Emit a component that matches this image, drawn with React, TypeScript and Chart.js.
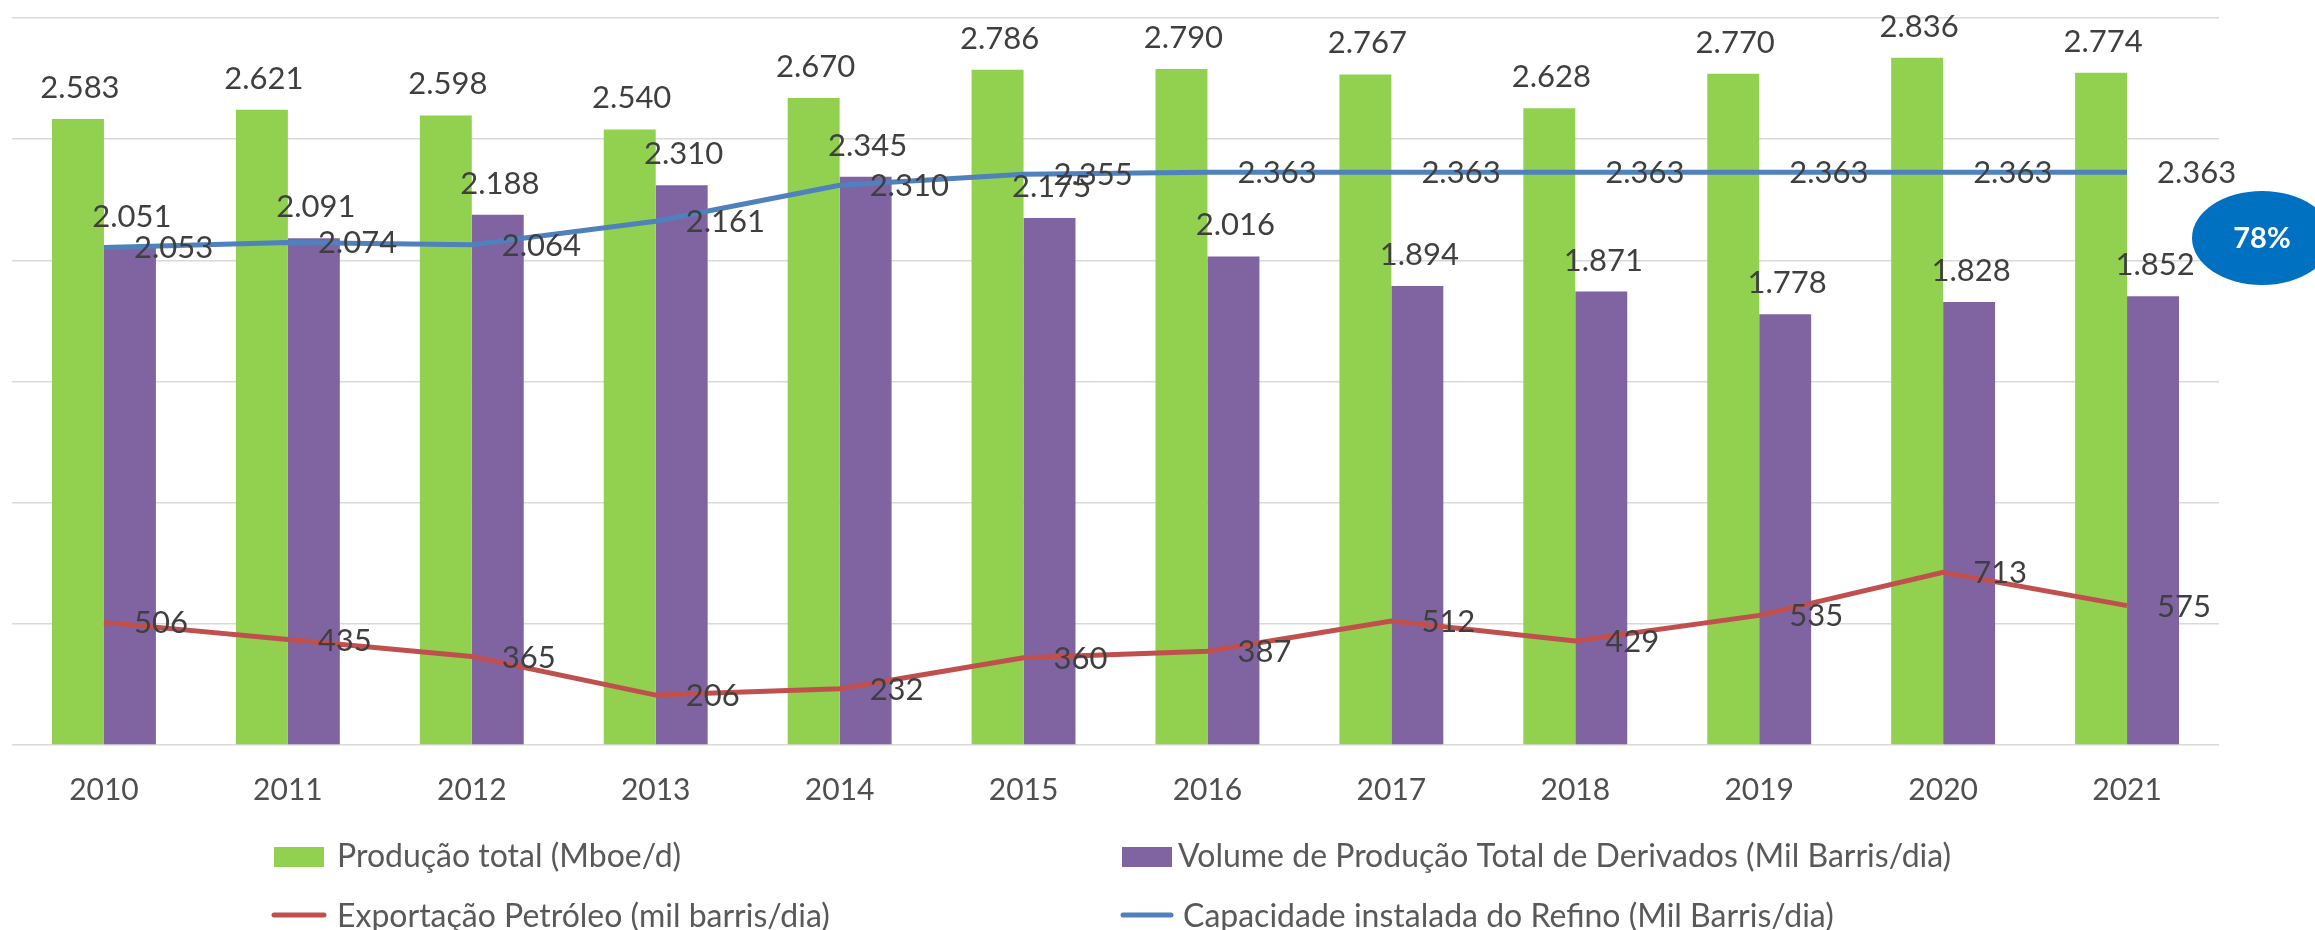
import React, { useEffect, useRef } from 'react';
import { Chart, registerables } from 'chart.js';

Chart.register(...registerables);

const years = ['2010', '2011', '2012', '2013', '2014', '2015', '2016', '2017', '2018', '2019', '2020', '2021'];
const producaoTotal = [2583, 2621, 2598, 2540, 2670, 2786, 2790, 2767, 2628, 2770, 2836, 2774];
const derivados = [2051, 2091, 2188, 2310, 2345, 2175, 2016, 1894, 1871, 1778, 1828, 1852];
const exportacao = [506, 435, 365, 206, 232, 360, 387, 512, 429, 535, 713, 575];
const capacidade = [2053, 2074, 2064, 2161, 2310, 2355, 2363, 2363, 2363, 2363, 2363, 2363];
const yMax = 3000;
const yStep = 500;
const badgeText = '78%';

const legendLabels = {
  producao: 'Produção total (Mboe/d)',
  derivados: 'Volume de Produção Total de Derivados (Mil Barris/dia)',
  exportacao: 'Exportação Petróleo (mil barris/dia)',
  capacidade: 'Capacidade instalada do Refino (Mil Barris/dia)',
};

const GREEN = '#92D050';
const PURPLE = '#8064A2';
const RED = '#C0504D';
const BLUE = '#4F81BD';
const FONT = 'Lato, "Open Sans", sans-serif';

function fmt(v: number): string {
  if (v >= 1000) {
    return Math.floor(v / 1000) + '.' + String(v % 1000).padStart(3, '0');
  }
  return String(v);
}

const valueLabelPlugin = {
  id: 'valueLabels',
  afterDatasetsDraw(chart: any) {
    const ctx = chart.ctx;
    ctx.save();
    ctx.font = '31px ' + FONT;
    ctx.fillStyle = '#3F3F3F';
    ctx.textBaseline = 'alphabetic';
    chart.data.datasets.forEach((ds: any, i: number) => {
      const meta = chart.getDatasetMeta(i);
      meta.data.forEach((el: any, j: number) => {
        const txt = fmt(ds.data[j]);
        if (ds.type === 'bar') {
          ctx.textAlign = 'center';
          ctx.fillText(txt, el.x + 2, el.y - 21);
        } else {
          ctx.textAlign = 'left';
          ctx.fillText(txt, el.x + 30, el.y + 11);
        }
      });
    });
    ctx.restore();
  },
};

const legendPlugin = {
  id: 'customLegend',
  afterDraw(chart: any) {
    const ctx = chart.ctx;
    ctx.save();
    ctx.font = '32px ' + FONT;
    ctx.textAlign = 'left';
    ctx.textBaseline = 'alphabetic';
    // row 1
    ctx.fillStyle = GREEN;
    ctx.fillRect(274, 847, 50, 20);
    ctx.fillStyle = PURPLE;
    ctx.fillRect(1122, 847, 50, 20);
    ctx.fillStyle = '#595959';
    ctx.fillText(legendLabels.producao, 337, 867);
    ctx.fillText(legendLabels.derivados, 1178, 867);
    // row 2
    ctx.lineWidth = 5;
    ctx.lineCap = 'round';
    ctx.strokeStyle = RED;
    ctx.beginPath();
    ctx.moveTo(274, 915);
    ctx.lineTo(324, 915);
    ctx.stroke();
    ctx.strokeStyle = BLUE;
    ctx.beginPath();
    ctx.moveTo(1123, 915);
    ctx.lineTo(1171, 915);
    ctx.stroke();
    ctx.fillStyle = '#595959';
    ctx.fillText(legendLabels.exportacao, 337, 927);
    ctx.fillText(legendLabels.capacidade, 1183, 927);
    // badge
    ctx.fillStyle = '#0070C0';
    ctx.beginPath();
    ctx.ellipse(2262, 238, 70, 47, 0, 0, Math.PI * 2);
    ctx.fill();
    ctx.fillStyle = '#FFFFFF';
    ctx.font = 'bold 29px ' + FONT;
    ctx.textAlign = 'center';
    ctx.fillText(badgeText, 2262, 248);
    ctx.restore();
  },
};

export default function App() {
  const canvasRef = useRef<HTMLCanvasElement | null>(null);

  useEffect(() => {
    document.body.style.margin = '0';
    const canvas = canvasRef.current;
    if (!canvas) return;
    const chart = new Chart(canvas, {
      type: 'bar',
      data: {
        labels: years,
        datasets: [
          {
            type: 'line',
            label: legendLabels.exportacao,
            data: exportacao,
            borderColor: RED,
            backgroundColor: RED,
            borderWidth: 5,
            pointRadius: 0,
            tension: 0,
            order: 0,
          } as any,
          {
            type: 'line',
            label: legendLabels.capacidade,
            data: capacidade,
            borderColor: BLUE,
            backgroundColor: BLUE,
            borderWidth: 5,
            pointRadius: 0,
            tension: 0,
            order: 0,
          } as any,
          {
            type: 'bar',
            label: legendLabels.producao,
            data: producaoTotal,
            backgroundColor: GREEN,
            categoryPercentage: 0.565,
            barPercentage: 1.0,
            order: 1,
          } as any,
          {
            type: 'bar',
            label: legendLabels.derivados,
            data: derivados,
            backgroundColor: PURPLE,
            categoryPercentage: 0.565,
            barPercentage: 1.0,
            order: 1,
          } as any,
        ],
      },
      options: {
        animation: false,
        responsive: false,
        devicePixelRatio: 1,
        layout: { padding: { left: 12, right: 96, top: 18, bottom: 0 } },
        plugins: {
          legend: { display: false },
          tooltip: { enabled: false },
        },
        scales: {
          x: {
            grid: { display: false, drawTicks: false },
            border: { display: false },
            ticks: {
              color: '#4F4F4F',
              font: { family: FONT, size: 30 },
              padding: 27,
              maxRotation: 0,
              autoSkip: false,
            },
            afterFit(scale: any) {
              scale.height = 185;
            },
          },
          y: {
            min: 0,
            max: yMax,
            ticks: { display: false, stepSize: yStep },
            grid: { color: '#D9D9D9', lineWidth: 1.5, drawTicks: false },
            border: { display: false },
            afterFit(scale: any) {
              scale.width = 0;
            },
          },
        },
      },
      plugins: [valueLabelPlugin, legendPlugin],
    } as any);
    return () => {
      chart.destroy();
    };
  }, []);

  return (
    <div style={{ width: 2315, height: 930, background: '#fff' }}>
      <canvas ref={canvasRef} width={2315} height={930} style={{ display: 'block', width: 2315, height: 930 }} />
    </div>
  );
}
